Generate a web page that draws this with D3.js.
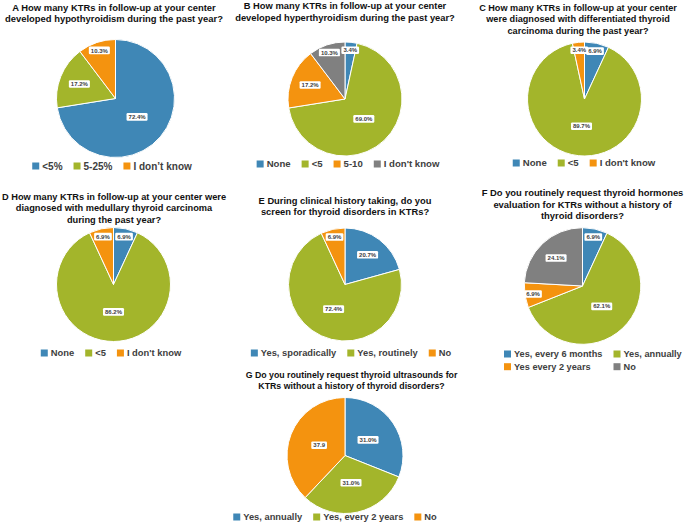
<!DOCTYPE html>
<html>
<head>
<meta charset="utf-8">
<script src="https://cdn.jsdelivr.net/npm/d3@7"></script>
<style>
  body { margin: 0; background: #fff; }
  text { font-family: "Liberation Sans", Arial, sans-serif; }
</style>
</head>
<body>
<div id="my_dataviz"></div>
<script>
// panel data
const titleA = ["A How many KTRs in follow-up at your center", "developed hypothyroidism during the past year?"];
const catsA = ["<5%", "5-25%", "I don\u2019t know"];
const valsA = [72.4, 17.2, 10.3];
const labelsA = ["72.4%", "17.2%", "10.3%"];

const titleB = ["B How many KTRs in follow-up at your center", "developed hyperthyroidism during the past year?"];
const catsB = ["None", "<5", "5-10", "I don't know"];
const valsB = [3.4, 69.0, 17.2, 10.3];
const labelsB = ["3.4%", "69.0%", "17.2%", "10.3%"];

const titleC = ["C How many KTRs in follow-up at your center", "were diagnosed with differentiated thyroid", "carcinoma during the past year?"];
const catsC = ["None", "<5", "I don't know"];
const valsC = [6.9, 89.7, 3.4];
const labelsC = ["6.9%", "89.7%", "3.4%"];

const titleD = ["D How many KTRs in follow-up at your center were", "diagnosed with medullary thyroid carcinoma", "during the past year?"];
const catsD = ["None", "<5", "I don't know"];
const valsD = [6.9, 86.2, 6.9];
const labelsD = ["6.9%", "86.2%", "6.9%"];

const titleE = ["E During clinical history taking, do you", "screen for thyroid disorders in KTRs?"];
const catsE = ["Yes, sporadically", "Yes, routinely", "No"];
const valsE = [20.7, 72.4, 6.9];
const labelsE = ["20.7%", "72.4%", "6.9%"];

const titleF = ["F Do you routinely request thyroid hormones", "evaluation for KTRs without a history of", "thyroid disorders?"];
const catsF = ["Yes, every 6 months", "Yes, annually", "Yes every 2 years", "No"];
const valsF = [6.9, 62.1, 6.9, 24.1];
const labelsF = ["6.9%", "62.1%", "6.9%", "24.1%"];

const titleG = ["G Do you routinely request thyroid ultrasounds for", "KTRs without a history of thyroid disorders?"];
const catsG = ["Yes, annually", "Yes, every 2 years", "No"];
const valsG = [31.0, 31.0, 37.9];
const labelsG = ["31.0%", "31.0%", "37.9"];

const palette = ["#3f87b6", "#a3b52b", "#f4930f", "#808080"];

const W = 685, H = 523;

const svg = d3.select("#my_dataviz")
  .append("svg")
    .attr("width", W)
    .attr("height", H);

// layout of each panel (maxW = widest title line allowed, lf = legend font size)
const panels = [
  {title: titleA, cats: catsA, vals: valsA, labels: labelsA, tx: 114, ty: 10.5, maxW: 218, cx: 115.5, cy: 98.5, r: 59, lx: 112, ly: 166, lf: 10},
  {title: titleB, cats: catsB, vals: valsB, labels: labelsB, tx: 345, ty: 9, maxW: 220, cx: 345, cy: 99, r: 57, lx: 348, ly: 164, lf: 9.6},
  {title: titleC, cats: catsC, vals: valsC, labels: labelsC, tx: 578, ty: 10.5, maxW: 198, cx: 584.5, cy: 99, r: 57, lx: 584, ly: 163, lf: 9.6},
  {title: titleD, cats: catsD, vals: valsD, labels: labelsD, tx: 114, ty: 199.5, maxW: 224, cx: 113.5, cy: 284.5, r: 57, lx: 111, ly: 353, lf: 9.4},
  {title: titleE, cats: catsE, vals: valsE, labels: labelsE, tx: 345, ty: 203.5, maxW: 173, cx: 345, cy: 284.5, r: 56.5, lx: 351, ly: 353, lf: 9.3},
  {title: titleF, cats: catsF, vals: valsF, labels: labelsF, tx: 582.5, ty: 196, maxW: 202, cx: 582.5, cy: 286, r: 58.3, lx: 504, ly: 354, lf: 9.2, cols: [0, 109.5], rowH: 12.7},
  {title: titleG, cats: catsG, vals: valsG, labels: labelsG, tx: 351.5, ty: 377.5, maxW: 212, cx: 345, cy: 455.5, r: 58, lx: 335, ly: 517, lf: 9.3}
];

const pie = d3.pie().sort(null).value(d => d);
const color = d3.scaleOrdinal().domain([0, 1, 2, 3]).range(palette);

panels.forEach(p => {
  const g = svg.append("g");

  // title, shrunk so the widest line fits
  const t = g.append("text")
    .attr("x", p.tx)
    .attr("y", p.ty)
    .attr("text-anchor", "middle")
    .style("font-size", "10px")
    .style("font-weight", "bold")
    .style("fill", "#111");
  const spans = p.title.map((line, i) =>
    t.append("tspan").attr("x", p.tx).attr("dy", i === 0 ? 0 : 11.7).text(line));
  const widest = d3.max(spans, s => s.node().getComputedTextLength());
  if (widest > p.maxW) t.style("font-size", (10 * p.maxW / widest).toFixed(2) + "px");

  // slices
  const arcs = pie(p.vals);
  const arc = d3.arc().innerRadius(0).outerRadius(p.r);
  const pg = g.append("g").attr("transform", `translate(${p.cx},${p.cy})`);
  pg.selectAll("path")
    .data(arcs)
    .join("path")
      .attr("d", arc)
      .attr("fill", (d, i) => color(i))
      .attr("stroke", "#fff")
      .attr("stroke-width", 1);

  // data labels: small slices pushed outward
  arcs.forEach((d, i) => {
    const share = (d.endAngle - d.startAngle) / (2 * Math.PI);
    const k = share < 0.12 ? 0.86 : share < 0.3 ? 0.66 : 0.48;
    const la = d3.arc().innerRadius(p.r * k).outerRadius(p.r * k);
    const [x, y] = la.centroid(d);
    const lg = pg.append("g").attr("transform", `translate(${x},${y})`);
    const txt = lg.append("text")
      .attr("text-anchor", "middle")
      .attr("dy", "0.35em")
      .style("font-size", "6px")
      .style("font-weight", "bold")
      .style("fill", "#404040")
      .text(p.labels[i]);
    const w = txt.node().getComputedTextLength() + 4;
    lg.insert("rect", "text")
      .attr("x", -w / 2)
      .attr("y", -3.8)
      .attr("width", w)
      .attr("height", 7.6)
      .attr("rx", 1.2)
      .attr("fill", "#fff");
  });

  // legend
  const leg = g.append("g");
  const items = p.cats.map((c, i) => {
    const it = leg.append("g");
    it.append("rect")
      .attr("width", 7).attr("height", 7)
      .attr("y", -3.5)
      .attr("fill", color(i));
    const tt = it.append("text")
      .attr("x", 10)
      .attr("dy", "0.35em")
      .style("font-size", p.lf + "px")
      .style("font-weight", "bold")
      .style("fill", "#404040")
      .text(c);
    return {it, w: 10 + tt.node().getComputedTextLength()};
  });
  if (p.cols) {
    items.forEach((d, i) => {
      const col = i % 2, row = Math.floor(i / 2);
      d.it.attr("transform", `translate(${p.lx + p.cols[col]},${p.ly + row * p.rowH})`);
    });
  } else {
    const gap = 11;
    const total = d3.sum(items, d => d.w) + gap * (items.length - 1);
    let x = p.lx - total / 2;
    items.forEach(d => {
      d.it.attr("transform", `translate(${x},${p.ly})`);
      x += d.w + gap;
    });
  }
});
</script>
</body>
</html>
